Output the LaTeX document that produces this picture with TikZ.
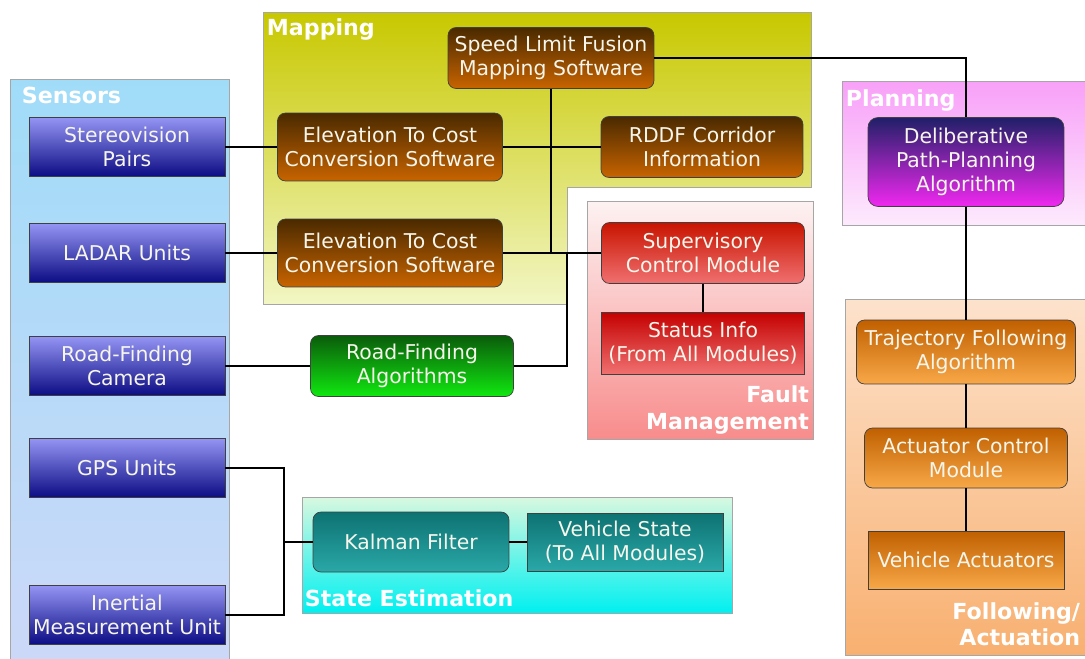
\documentclass[tikz,border=0pt]{standalone}
\usepackage{fontspec}
\setmainfont{DejaVu Sans}
\usepackage{tikz}
\definecolor{sensTop}{HTML}{9494F4}
\definecolor{sensBot}{HTML}{0C0C84}
\definecolor{mapTop}{HTML}{4A2A00}
\definecolor{mapBot}{HTML}{C86400}
\definecolor{supTop}{HTML}{C81400}
\definecolor{supBot}{HTML}{F07070}
\definecolor{roadTop}{HTML}{0A5C0A}
\definecolor{roadBot}{HTML}{10E810}
\definecolor{kalTop}{HTML}{0E7272}
\definecolor{kalBot}{HTML}{2AA8A8}
\definecolor{planTop}{HTML}{202068}
\definecolor{planBot}{HTML}{F028F0}
\definecolor{actTop}{HTML}{C06000}
\definecolor{actBot}{HTML}{F8A848}
\definecolor{txt}{HTML}{F6F6EC}

\begin{document}
\begin{tikzpicture}[x=0.02cm, y=-0.02cm, line width=1.1pt,
  box/.style = {draw=black!75, thin, text=txt, align=center, inner sep=0pt, font=\fontsize{11.6}{13.7}\selectfont},
  sensor/.style = {box, top color=sensTop, bottom color=sensBot, minimum width=3.92cm, minimum height=1.18cm},
  mapsw/.style = {box, rounded corners=1.6mm, top color=mapTop, bottom color=mapBot, minimum height=1.22cm},
  faultbox/.style = {box, top color=supTop, bottom color=supBot, minimum width=4.06cm, minimum height=1.22cm},
  kal/.style = {box, top color=kalTop, bottom color=kalBot, minimum width=3.92cm, minimum height=1.18cm},
  act/.style = {box, top color=actTop, bottom color=actBot, minimum height=1.2cm},
  panel/.style = {draw=black!35, thin},
  head/.style = {text=white, inner sep=0pt, font=\fontsize{12.6}{15}\selectfont\bfseries}]
\useasboundingbox (0,0) rectangle (1085,659);
\shade[panel, top color={rgb,255:red,160;green,220;blue,248}, bottom color={rgb,255:red,204;green,216;blue,248}] (10,79) rectangle (229,659);
\shade[panel, top color={rgb,255:red,200;green,200;blue,0}, bottom color={rgb,255:red,242;green,246;blue,196}] (263,12) -- (811,12) -- (811,187) -- (567,187) -- (567,304) -- (263,304) -- cycle;
\shade[panel, top color={rgb,255:red,248;green,160;blue,248}, bottom color={rgb,255:red,253;green,234;blue,253}] (842,81) rectangle (1085,225);
\shade[panel, top color={rgb,255:red,253;green,242;blue,242}, bottom color={rgb,255:red,248;green,140;blue,140}] (587,201) rectangle (813,439);
\shade[panel, top color={rgb,255:red,253;green,226;blue,204}, bottom color={rgb,255:red,248;green,176;blue,112}] (845,299) rectangle (1085,655);
\shade[panel, top color={rgb,255:red,216;green,248;blue,224}, bottom color={rgb,255:red,0;green,240;blue,240}] (302,497) rectangle (732,613);

\node[head, anchor=base west] (s) at (21,103) {Sensors};
\node[head, anchor=base west] (m) at (266,35) {Mapping};
\node[head, anchor=base west] (p) at (845,106) {Planning};
\node[head, anchor=south east, align=right] (f) at (810,435) {Fault\\Management};
\node[head, anchor=south east, align=right] (a) at (1081,647) {Following/\\Actuation};
\node[head, anchor=base west] (e) at (304,606) {State Estimation};

\node[sensor] (1) at (127,147) {Stereovision\\Pairs};
\node[sensor] (2) at (127,253) {LADAR Units};
\node[sensor] (3) at (127,366) {Road-Finding\\Camera};
\node[sensor] (4) at (127,468) {GPS Units};
\node[sensor] (5) at (127,615) {Inertial\\Measurement Unit};
\node[mapsw, minimum width=4.12cm] (6) at (551,58) {Speed Limit Fusion\\Mapping Software};
\node[mapsw, minimum width=4.5cm, minimum height=1.36cm] (7) at (390,147) {Elevation To Cost\\Conversion Software};
\node[mapsw, minimum width=4.04cm] (8) at (702,147) {RDDF Corridor\\Information};
\node[mapsw, minimum width=4.5cm, minimum height=1.36cm] (9) at (390,253) {Elevation To Cost\\Conversion Software};
\node[faultbox, rounded corners=1.6mm] (10) at (703,253) {Supervisory\\Control Module};
\node[faultbox, minimum height=1.24cm, top color={rgb,255:red,196;green,0;blue,0}] (11) at (703,343) {Status Info\\(From All Modules)};
\node[box, rounded corners=1.6mm, top color=roadTop, bottom color=roadBot, minimum width=4.06cm, minimum height=1.22cm] (12) at (412,366) {Road-Finding\\Algorithms};
\node[kal, rounded corners=1.6mm, minimum height=1.2cm] (13) at (411,542) {Kalman Filter};
\node[kal, minimum height=1.16cm] (14) at (625,542) {Vehicle State\\(To All Modules)};
\node[box, rounded corners=2mm, top color=planTop, bottom color=planBot, minimum width=3.92cm, minimum height=1.78cm] (15) at (966,162) {Deliberative\\Path-Planning\\Algorithm};
\node[act, rounded corners=1.6mm, minimum width=4.38cm, minimum height=1.28cm] (16) at (966,352) {Trajectory Following\\Algorithm};
\node[act, rounded corners=1.6mm, minimum width=4.06cm] (17) at (966,458) {Actuator Control\\Module};
\node[act, minimum width=3.92cm, minimum height=1.16cm] (18) at (966,560) {Vehicle Actuators};

\coordinate (j1) at (567,253);
\coordinate (j2) at (284,542);
\draw (1) -- (7);
\draw (2) -- (9);
\draw (7) -- (8);
\draw (9) -- (10);
\draw (6.south) -- (6.south |- 9.east);
\draw (3) -- (12);
\draw (12) -| (j1);
\draw (10) -- (11);
\draw (6) -| (15);
\draw (15) -- (16);
\draw (16) -- (17);
\draw (17) -- (18);
\draw (4) -| (j2) |- (5);
\draw (j2) -- (13);
\draw (13) -- (14);
\end{tikzpicture}
\end{document}
